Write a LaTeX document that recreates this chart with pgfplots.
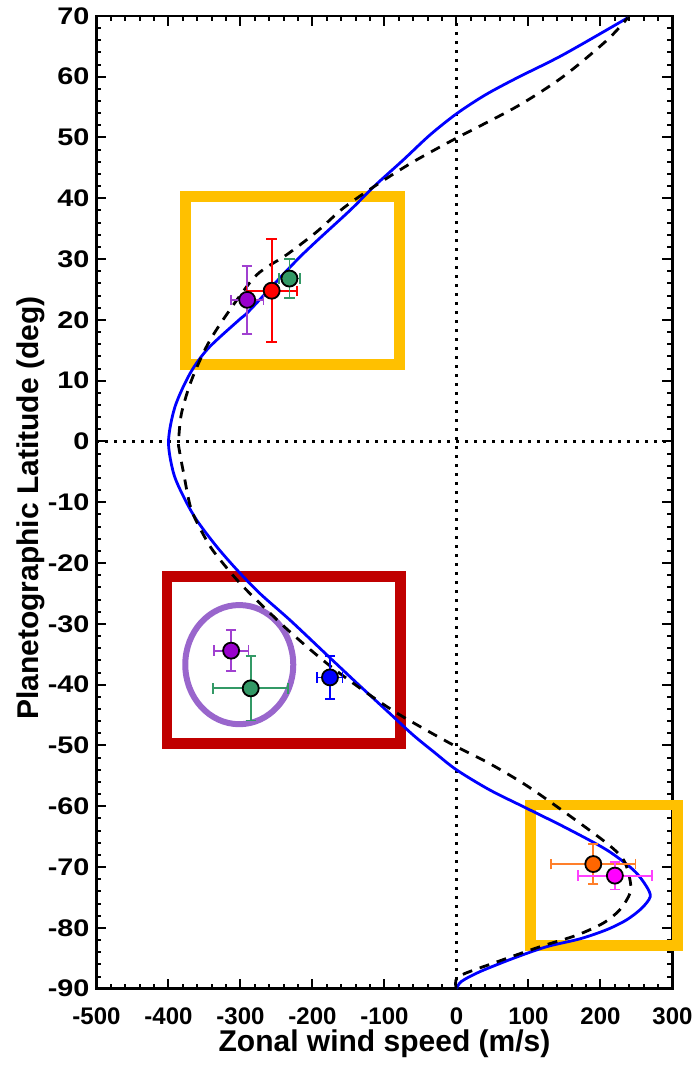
\documentclass[border=0pt]{standalone}
\usepackage{pgfplots}
\pgfplotsset{compat=1.18}
\usepackage{fontspec}
\setmainfont{Liberation Sans}
\usepackage{graphicx}

\definecolor{gold}{HTML}{FFC000}
\definecolor{boxred}{HTML}{C00000}
\definecolor{ellpurple}{HTML}{9966CC}
\definecolor{ptpurple}{HTML}{9900CC}
\definecolor{barpurple}{HTML}{A040D0}
\definecolor{ptgreen}{HTML}{339966}
\definecolor{ptorange}{HTML}{FF6600}
\definecolor{barorange}{HTML}{FF7F2A}
\definecolor{ptmagenta}{HTML}{FF00FF}
\definecolor{barmagenta}{HTML}{FF40FF}

\pgfplotsset{
  errbars/.style={only marks, mark=none,
    error bars/.cd, x dir=both, x explicit, y dir=both, y explicit,
    error bar style={color=#1, line width=0.9pt},
    error mark options={rotate=90, mark size=2.6pt, line width=0.9pt, color=#1}},
  dot/.style={only marks, mark=*, mark size=4pt,
    mark options={fill=#1, draw=black, line width=0.9pt}},
}

\begin{document}
\begin{tikzpicture}
\begin{axis}[
    scale only axis,
    width=288pt, height=486.4pt,
    xmin=-500, xmax=300, ymin=-90, ymax=70,
    xtick={-500,-400,...,300},
    ytick={-90,-80,...,70},
    minor x tick num=4, minor y tick num=4,
    tick align=inside,
    major tick length=5pt, minor tick length=2.5pt,
    axis line style={line width=1.2pt},
    every tick/.style={black, line width=1pt},
    /pgf/number format/assume math mode=true,
    tick label style={font=\bfseries\fontsize{12}{12}\selectfont},
    yticklabel={\scalebox{1.2}[1]{\pgfmathprintnumber{\tick}}},
    xticklabel style={anchor=base, yshift=-18pt},
    xlabel={Zonal wind speed (m/s)},
    ylabel={Planetographic Latitude (deg)},
    label style={font=\bfseries\fontsize{15}{15}\selectfont},
    xlabel style={at={(axis description cs:0.5,0)}, anchor=base, yshift=-31.5pt},
    ylabel style={at={(axis description cs:-0.1137,0.494)}, anchor=center},
    clip=false,
]

% annotation boxes
\draw[gold, line width=5.35pt] (axis cs:-376.7,12.7) rectangle (axis cs:-79.2,40.3);
\draw[boxred, line width=5.35pt] (axis cs:-402,-49.7) rectangle (axis cs:-78,-22.2);
\draw[gold, line width=5.35pt] (axis cs:103,-82.9) rectangle (axis cs:307,-59.8);
\draw[ellpurple, line width=3pt] (axis cs:-301.7,-36.7) ellipse [x radius=75, y radius=9.8];

% zero lines
\addplot[black, line width=1.1pt, dash pattern=on 1.1pt off 3.4pt] coordinates {(-500,0) (300,0)};
\addplot[black, line width=1.1pt, dash pattern=on 1.1pt off 3.4pt] coordinates {(0,-90) (0,70)};

% model profiles
\addplot[blue, line width=1.4pt, smooth] coordinates {
  (0,-90) (7,-88.8) (32.6,-87.2) (79,-85) (125,-83.1) (171.5,-81.8)
  (208.6,-80.3) (236,-78.7) (257,-76.8) (269,-74.9) (264,-73.2) (246,-70.5) (209,-67.2)
  (153,-63.6) (97,-60.3) (46,-57.3) (0,-54) (-30,-51.2) (-60,-48.3)
  (-92,-44.8) (-136,-40) (-180,-35.1) (-231,-29.4) (-273,-25) (-305,-21.1)
  (-333,-17.3) (-361,-12.9) (-379,-9.1) (-393,-5.2) (-400,0) (-391,5.7)
  (-370,11.2) (-345,15.3) (-302,20) (-287,21.6) (-217,30.4) (-148,38)
  (-115,41.9) (-74,46.3) (-37,50.4) (0,53.9) (40,57) (84,59.8)
  (148,63.6) (238,69.7)
};
\addplot[black, line width=1.4pt, dash pattern=on 5pt off 4pt, smooth] coordinates {
  (0,-90) (3,-88) (56,-85.6) (116,-83.1) (167,-81.2) (204,-79.2)
  (227,-77) (241,-74.3) (241,-72.1) (232,-68.8) (209,-66.1) (153,-61.2)
  (97.5,-56.6) (46.5,-53) (0,-50.2) (-40,-47.6) (-85,-44.5) (-130,-40.9)
  (-180,-36.5) (-236,-30.8) (-296,-23.9) (-328,-19.5) (-345,-16.7)
  (-368,-11.3) (-379,-5.2) (-385,-1.4) (-386,0) (-382,4.6) (-368,10.1)
  (-345,16.1) (-315,21.6) (-277.5,27.4) (-236,30.7) (-194,34.5) (-157,38.4)
  (-111,42.2) (-60,46) (0,49.9) (84,55.1) (148,60) (209,66) (238,69.7)
};

% measurements
\addplot[errbars=barpurple] coordinates {(-290.7,23.3) +- (22.6,5.6)};
\addplot[dot=ptpurple] coordinates {(-290.7,23.3)};
\addplot[errbars=red] coordinates {(-256.7,24.8) +- (35,8.5)};
\addplot[dot=red] coordinates {(-256.7,24.8)};
\addplot[errbars=ptgreen] coordinates {(-232,26.8) +- (15,3.2)};
\addplot[dot=ptgreen] coordinates {(-232,26.8)};

\addplot[errbars=barpurple] coordinates {(-313,-34.4) +- (24,3.4)};
\addplot[dot=ptpurple] coordinates {(-313,-34.4)};
\addplot[errbars=ptgreen] coordinates {(-285.8,-40.6) +- (52,5.3)};
\addplot[dot=ptgreen] coordinates {(-285.8,-40.6)};
\addplot[errbars=blue] coordinates {(-175.7,-38.8) +- (17.5,3.5)};
\addplot[dot=blue] coordinates {(-175.7,-38.8)};

\addplot[errbars=barorange] coordinates {(190,-69.5) +- (58.5,3.3)};
\addplot[dot=ptorange] coordinates {(190,-69.5)};
\addplot[errbars=barmagenta] coordinates {(220,-71.4) +- (51.5,2.3)};
\addplot[dot=ptmagenta] coordinates {(220,-71.4)};
\end{axis}
\pgfresetboundingbox
\path[use as bounding box] ([xshift=-48.25pt,yshift=-39.15pt]current axis.south west)
  rectangle ([xshift=12.75pt,yshift=7.95pt]current axis.north east);
\end{tikzpicture}
\end{document}
